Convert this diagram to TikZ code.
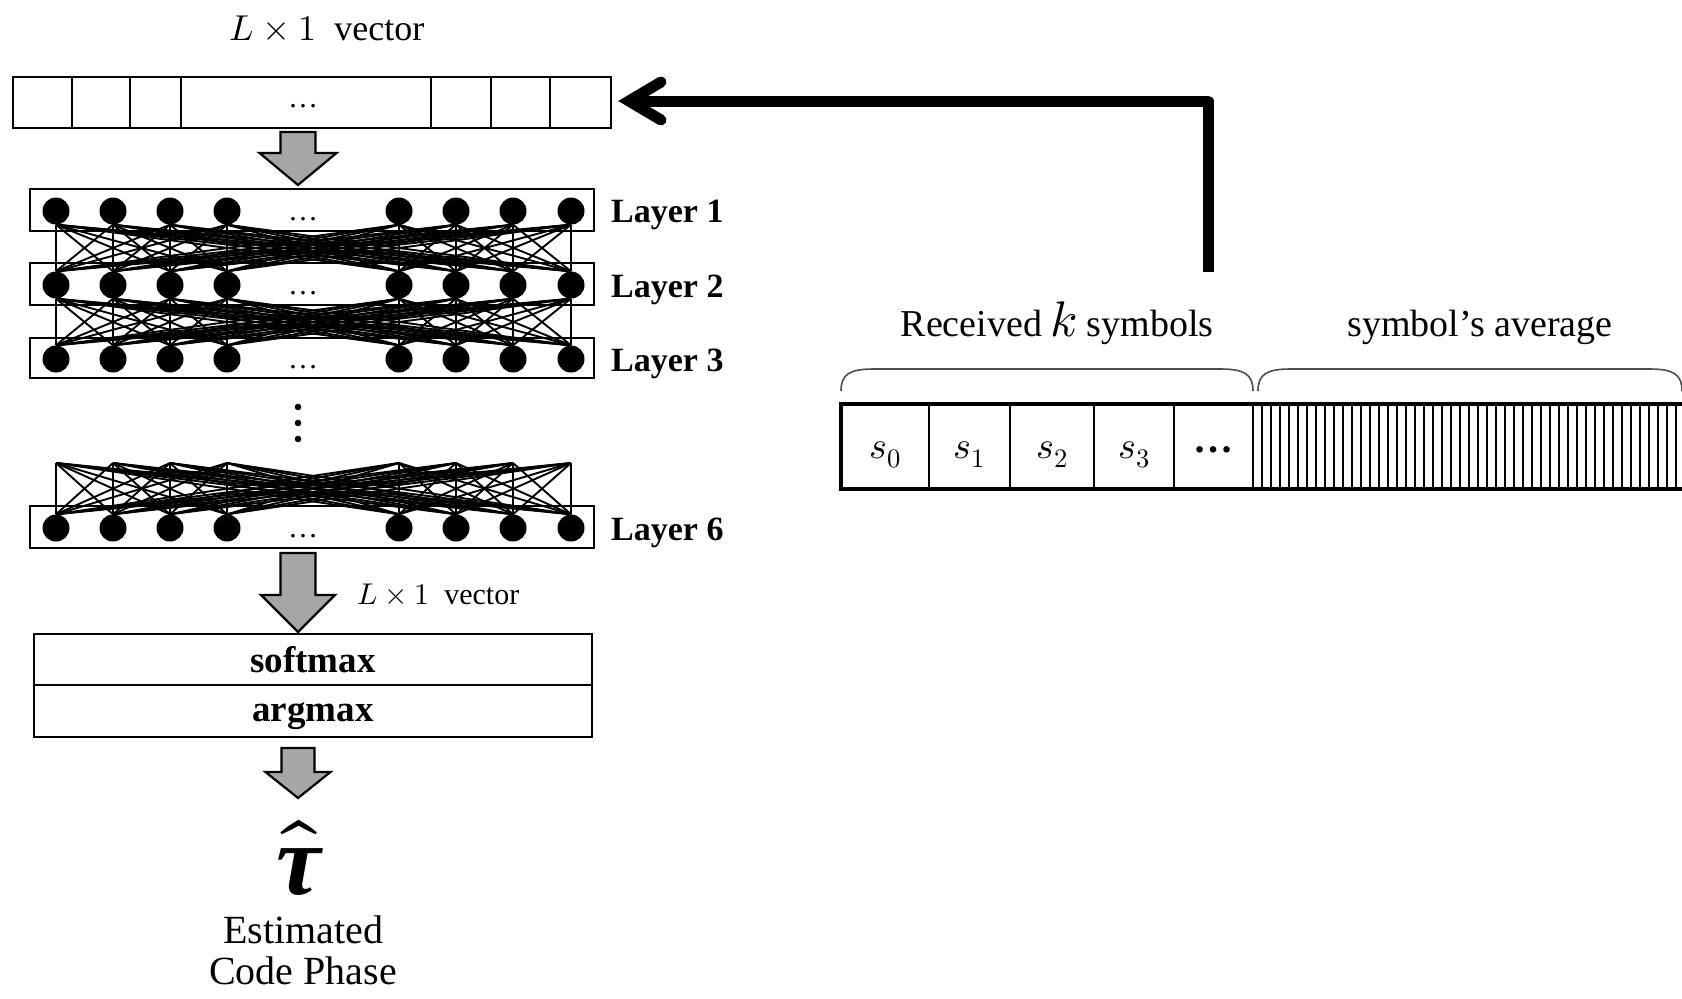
\documentclass[tikz,border=0pt]{standalone}
\usepackage{fontspec}
\usepackage{unicode-math}
\setmainfont{Liberation Serif}
\setmathfont{Latin Modern Math}
\usetikzlibrary{calc}
\newcommand\setfs[1]{\fontsize{#1}{#1}\selectfont}
\definecolor{arrowgray}{HTML}{A6A6A6}
\definecolor{bracegray}{HTML}{4D4D4D}
\tikzset{
  frame/.style={draw=black, line width=2pt, inner sep=0pt},
  neuron/.style={circle, fill=black, minimum size=27pt, inner sep=0pt},
  wire/.style={draw=black, line width=1.9pt},
  blockarrow/.style={draw=black, line width=2.2pt, fill=arrowgray, line join=miter},
  layerlabel/.style={anchor=base west, inner sep=0pt, font=\setfs{34}\bfseries},
  plain/.style={inner sep=0pt},
  feedline/.style={draw=black, line width=11pt, line join=round},
  barb/.style={draw=black, line width=11pt, line cap=round, line join=miter},
  brace/.style={draw=bracegray, line width=1.6pt},
  seqframe/.style={draw=black, line width=3.5pt},
  cell/.style={draw=black, line width=2pt, inner sep=0pt, minimum height=85pt},
  hatch/.style={draw=black, line width=2.2pt},
}
% down-pointing block arrow: centre x, top y, head y, tip y, half shaft, half head
\newcommand\blockdown[6]{%
  \draw[blockarrow] (#1-#5,#2) -- (#1+#5,#2) -- (#1+#5,#3) -- (#1+#6,#3)
    -- (#1,#4) -- (#1-#6,#3) -- (#1-#5,#3) -- cycle;}
\begin{document}
\begin{tikzpicture}[x=1pt, y=-1pt]
\path[use as bounding box] (0,0) rectangle (1682,999);
\clip (0,0) rectangle (1682,999);

% ---------- input vector ----------
\node[plain, anchor=base, font=\setfs{36}] (title) at (327,40) {$L\times 1$\enspace vector};
\node[frame, minimum width=598pt, minimum height=51pt] (vec) at (312,102.5) {};
\foreach \x in {72,130,181,431,491,550}
  \draw[line width=2pt] (\x,77) -- (\x,128);
\node[plain, font=\setfs{30}] (vdots) at (303,106) {\ldots};

\blockdown{298}{132}{153}{185}{17.5}{38.5}

% ---------- layer boxes ----------
\node[frame, minimum width=564pt, minimum height=42pt] (box1) at (312,210) {};
\node[frame, minimum width=564pt, minimum height=42pt] (box2) at (312,284) {};
\node[frame, minimum width=564pt, minimum height=40pt] (box3) at (312,358) {};
\node[frame, minimum width=564pt, minimum height=42pt] (box6) at (312,527) {};

% ---------- neurons ----------
\foreach \l/\y in {1/211,2/285,3/359,6/528}{
  \foreach \i/\x in {1/56,2/113,3/170,4/227,5/399,6/456,7/513,8/571}
    \node[neuron] (n\l-\i) at (\x,\y) {};
  \node[plain, font=\setfs{30}] at (303,\y+8) {\ldots};
}

% ---------- full connections ----------
\foreach \a/\b in {1/2,2/3}
  \foreach \i in {1,...,8}
    \foreach \j in {1,...,8}
      \draw[wire] (n\a-\i.south) -- (n\b-\j.north);

\foreach \i/\x in {1/56,2/113,3/170,4/227,5/399,6/456,7/513,8/571}
  \coordinate (t-\i) at (\x,463);
\foreach \i in {1,...,8}
  \foreach \j in {1,...,8}
    \draw[wire] (t-\i) -- (n6-\j.north);

% ---------- layer labels ----------
\node[layerlabel] (lab1) at (611,222) {Layer 1};
\node[layerlabel] (lab2) at (611,297) {Layer 2};
\node[layerlabel] (lab3) at (611,371) {Layer 3};
\node[layerlabel] (lab6) at (611,540) {Layer 6};

% vertical ellipsis
\foreach \y in {407,423,439}
  \fill (298,\y) circle (3.3pt);

% ---------- output ----------
\blockdown{298}{553}{595}{632}{17.5}{37}
\node[plain, anchor=base west, font=\setfs{30}] (outlab) at (357,604) {$L\times 1$\enspace vector};

\node[frame, minimum width=558pt, minimum height=51pt] (sm) at (313,659.5) {};
\node[frame, minimum width=558pt, minimum height=52pt] (am) at (313,711) {};
\node[plain, anchor=base, font=\setfs{37}\bfseries] at (313,672) {softmax};
\node[plain, anchor=base, font=\setfs{37}\bfseries] at (313,721) {argmax};

\blockdown{298}{748}{772}{798}{16.5}{32.5}

\node[plain, font=\setfs{100}] (tau) at (299,858) {$\hat{\mbox{\bfseries\itshape τ}}$};
\node[plain, anchor=base, font=\setfs{40}] (est) at (303,943) {Estimated};
\node[plain, anchor=base, font=\setfs{40}] (cph) at (303,984) {Code Phase};

% ---------- received sequence ----------
\node[plain, anchor=base, font=\setfs{38}] (rk) at (1057,336) {Received{\setfs{50}$\,k$} symbols};
\node[plain, anchor=base, font=\setfs{38}] (sa) at (1480,336) {symbol’s average};

\draw[brace] (841,391) .. controls (841,374) and (850,369) .. (874,369)
  -- (1220,369) .. controls (1244,369) and (1253,374) .. (1253,391);
\draw[brace] (1258,391) .. controls (1258,374) and (1267,369) .. (1291,369)
  -- (1649,369) .. controls (1673,369) and (1682,374) .. (1682,391);

\node[cell, minimum width=88pt] (c0) at (885,446.5) {};
\node[cell, minimum width=81pt] (c1) at (969.5,446.5) {};
\node[cell, minimum width=84pt] (c2) at (1052,446.5) {};
\node[cell, minimum width=80pt] (c3) at (1134,446.5) {};
\node[cell, minimum width=79pt] (c4) at (1213.5,446.5) {};
\foreach \c/\k in {c0/0,c1/1,c2/2,c3/3}
  \node[plain, anchor=base, font=\setfs{38}] at ($(\c)+(0,12)$) {$s_{\k}$};
\node[plain, anchor=base, font=\setfs{40}\bfseries] at ($(c4)+(0,6)$) {\ldots};

\foreach \k in {0,...,48}
  \draw[hatch] ({1253+9*\k},404) -- ({1253+9*\k},489);
\draw[seqframe] (841,404) rectangle (1700,489);

% ---------- feedback connection ----------
\coordinate (src) at (1208,272);
\coordinate (tip) at ($(vec.east)+(17,-1.5)$);
\draw[feedline] (src) |- ($(tip)+(4,0)$);
\draw[barb] ($(tip)+(32,-19)$) -- (tip) -- ($(tip)+(32,19)$);
\end{tikzpicture}
\end{document}
